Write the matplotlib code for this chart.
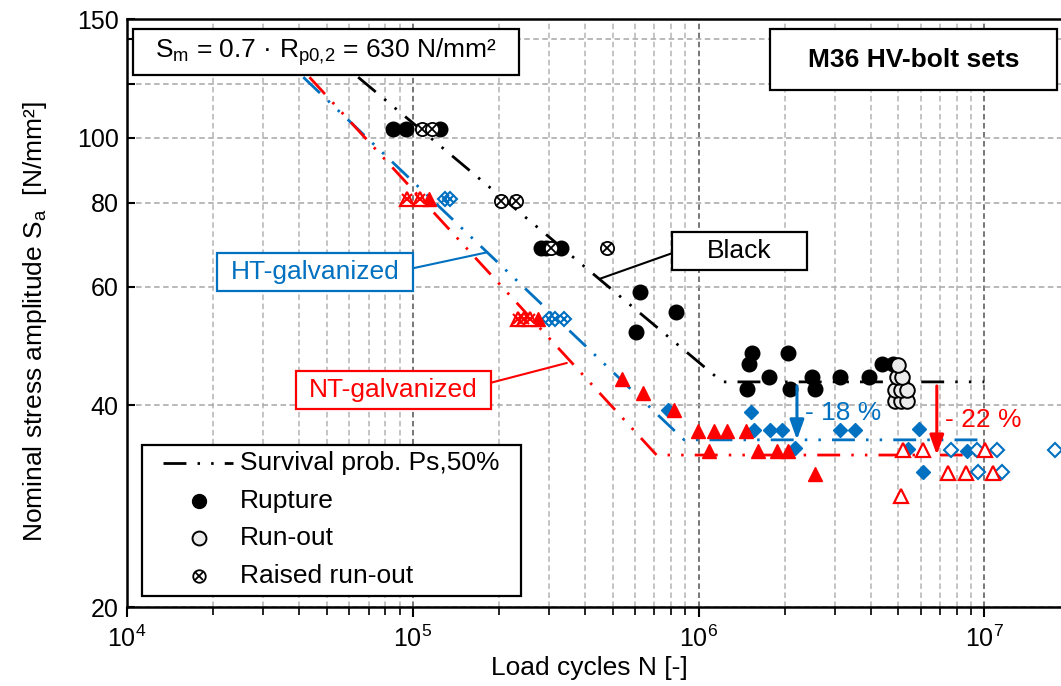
import numpy as np
import matplotlib
matplotlib.use('Agg')
import matplotlib.pyplot as plt
from matplotlib.patches import Rectangle
from matplotlib.ticker import FixedLocator, FixedFormatter, LogLocator, NullFormatter

plt.rcParams['font.family'] = ['Liberation Sans', 'DejaVu Sans']
plt.rcParams['mathtext.fontset'] = 'custom'
plt.rcParams['mathtext.rm'] = 'Liberation Sans'
plt.rcParams['mathtext.it'] = 'Liberation Sans:italic'
plt.rcParams['mathtext.bf'] = 'Liberation Sans:bold'
plt.rcParams['mathtext.default'] = 'regular'
plt.rcParams['lines.scale_dashes'] = False

# ---- data ----
# black bolts
black_rup_N = [8.54e4, 9.5e4, 1.25e5, 2.82e5, 2.93e5, 3.31e5, 6.24e5, 6.04e5, 8.36e5,
               1.54e6, 1.50e6, 1.48e6, 1.76e6, 2.06e6, 2.09e6, 2.49e6, 2.56e6, 3.13e6,
               3.95e6, 4.38e6, 4.81e6]
black_rup_S = [103, 103, 103, 68.6, 68.6, 68.6, 58.9, 51.4, 55.1,
               47.8, 46.0, 42.3, 44.1, 47.8, 42.2, 44.1, 42.3, 44.1,
               44.1, 46.0, 46.0]
black_run_N = [4.87e6, 5.1e6, 5.35e6, 4.87e6, 5.1e6, 5.35e6, 4.96e6, 5.14e6, 5.0e6]
black_run_S = [40.5, 40.5, 40.5, 42.1, 42.1, 42.1, 44.1, 44.1, 45.9]
black_raised_N = [1.079e5, 1.169e5, 2.03e5, 2.29e5, 3.05e5, 4.77e5]
black_raised_S = [103, 103, 80.5, 80.5, 68.6, 68.6]

# HT-galvanized (blue)
ht_rup_N = [7.82e5, 1.52e6, 1.56e6, 1.78e6, 1.96e6, 3.13e6, 3.53e6, 5.93e6,
            2.18e6, 5.42e6, 8.72e6, 6.09e6]
ht_rup_S = [39.3, 39.1, 36.7, 36.7, 36.7, 36.7, 36.7, 36.8,
            34.5, 34.4, 34.2, 31.8]
ht_run_N = [7.65e6, 9.41e6, 1.105e7, 1.77e7, 9.53e6, 1.15e7]
ht_run_S = [34.3, 34.3, 34.3, 34.3, 31.8, 31.8]
ht_raised_N = [1.30e5, 1.355e5, 2.99e5, 3.15e5, 3.37e5]
ht_raised_S = [81, 81, 53.8, 53.8, 53.8]

# NT-galvanized (red)
nt_rup_N = [1.137e5, 2.75e5, 5.40e5, 6.38e5, 8.2e5, 9.95e5, 1.135e6, 1.255e6, 1.46e6,
            1.09e6, 1.62e6, 1.88e6, 2.06e6, 2.56e6]
nt_rup_S = [81, 53.8, 43.8, 41.7, 39.3, 36.6, 36.6, 36.6, 36.6,
            34.2, 34.2, 34.2, 34.2, 31.6]
nt_run_N = [5.18e6, 6.09e6, 1.006e7, 7.48e6, 8.63e6, 1.07e7, 5.11e6]
nt_run_S = [34.3, 34.3, 34.3, 31.7, 31.7, 31.7, 29.3]
nt_raised_N = [9.56e4, 1.058e5, 2.34e5, 2.46e5, 2.58e5]
nt_raised_S = [81, 81, 53.8, 53.8, 53.8]

# Ps 50% curves (start, knee, end)
black_fit_N = [6.44e4, 1.21e6, 1.0e7]
black_fit_S = [123, 43.3, 43.3]
ht_fit_N = [4.14e4, 8.9e5, 1.0e7]
ht_fit_S = [123, 35.5, 35.5]
nt_fit_N = [4.35e4, 7.13e5, 1.0e7]
nt_fit_S = [123, 33.7, 33.7]

arrow_N = [2.21e6, 6.82e6]
arrow_top_S = 42.7
arrow_labels = ['- 18 %', '- 22 %']

ytick_vals = [20, 40, 60, 80, 100, 120, 140, 150]
ytick_labels = ['20', '40', '60', '80', '100', '', '', '150']

BLUE = '#0070c0'
RED = '#ff0000'
DASH = (16.5, 8, 1.8, 8, 1.8, 8)
FS = 19

fig = plt.figure(figsize=(10.61, 6.86), dpi=100)
ax = fig.add_axes([127 / 1061, (686 - 607.3) / 686, 934 / 1061, 588 / 686])


def axf(x, y):
    # pixel position in the reference -> axes fraction
    return (x - 127) / 934, (607.3 - y) / 588


ax.set_xscale('log')
ax.set_yscale('log')
ax.set_xlim(1e4, 1.855e7)
ax.set_ylim(20, 150)

# grid
ax.yaxis.set_major_locator(FixedLocator(ytick_vals))
ax.yaxis.set_major_formatter(FixedFormatter(ytick_labels))
ax.yaxis.set_minor_locator(FixedLocator([]))
ax.xaxis.set_major_locator(LogLocator(base=10, numticks=10))
ax.xaxis.set_minor_locator(LogLocator(base=10, subs=np.arange(2, 10), numticks=20))
ax.xaxis.set_minor_formatter(NullFormatter())
ax.grid(True, axis='y', which='major', color='#a6a6a6', ls=(0, (4, 2.5)), lw=1.1)
ax.grid(True, axis='x', which='minor', color='#b4b4b4', ls=(0, (4, 2.5)), lw=1.1)
ax.grid(True, axis='x', which='major', color='#606060', ls=(0, (4, 2.5)), lw=1.2)
ax.set_axisbelow(True)

ax.tick_params(axis='x', which='major', direction='out', length=7, width=1.5, labelsize=18, pad=6)
ax.tick_params(axis='x', which='minor', direction='out', length=6, width=1.2)
ax.tick_params(axis='y', which='major', direction='in', length=6, width=1.5, labelsize=18, pad=6)
for s in ['left', 'top', 'bottom']:
    ax.spines[s].set_linewidth(1.8)
ax.spines['right'].set_visible(False)

# fitted curves
ax.plot(ht_fit_N, ht_fit_S, color=BLUE, lw=2.0, dashes=DASH, zorder=2)
ax.plot(nt_fit_N, nt_fit_S, color=RED, lw=2.0, dashes=DASH, zorder=2)
ax.plot(black_fit_N, black_fit_S, color='black', lw=2.0, dashes=DASH, zorder=2)

# blue markers
ax.plot(ht_rup_N, ht_rup_S, 'D', ms=7.5, mfc=BLUE, mec=BLUE, zorder=4)
ax.plot(ht_run_N, ht_run_S, 'D', ms=7.2, mfc='white', mec=BLUE, mew=1.5, zorder=4)
ax.plot(ht_raised_N, ht_raised_S, 'D', ms=7.5, mfc='white', mec=BLUE, mew=1.5, zorder=4)
ax.plot(ht_raised_N, ht_raised_S, 'x', ms=5.3, mec=BLUE, mew=1.5, zorder=4)

# red markers
ax.plot(nt_rup_N, nt_rup_S, '^', ms=10.5, mfc=RED, mec=RED, zorder=4)
ax.plot(nt_run_N, nt_run_S, '^', ms=10.5, mfc='white', mec=RED, mew=1.6, zorder=4)
ax.plot(nt_raised_N, nt_raised_S, '^', ms=10.5, mfc='white', mec=RED, mew=1.6, zorder=4)
ax.plot(nt_raised_N, nt_raised_S, 'x', ms=6.5, mec=RED, mew=1.5, zorder=4)

# black markers
ax.plot(black_rup_N, black_rup_S, 'o', ms=10.5, mfc='black', mec='black', zorder=5)
ax.plot(black_run_N, black_run_S, 'o', ms=10.5, mfc='#ececec', mec='black', mew=1.4, zorder=5)
ax.plot(black_raised_N, black_raised_S, 'o', ms=9.5, mfc='white', mec='black', mew=1.3, zorder=5)
ax.plot(black_raised_N, black_raised_S, 'x', ms=6.5, mec='black', mew=1.3, zorder=5)

# reduction arrows
for n, s_low, col, lab in zip(arrow_N, [ht_fit_S[-1], nt_fit_S[-1]], [BLUE, RED], arrow_labels):
    ax.annotate('', xy=(n, s_low), xytext=(n, arrow_top_S),
                arrowprops=dict(arrowstyle='-|>,head_length=0.7,head_width=0.25',
                                mutation_scale=17, color=col, lw=2.2,
                                shrinkA=0, shrinkB=0), zorder=6)
    ax.annotate(lab, xy=(n, (arrow_top_S * s_low) ** 0.5), xytext=(6, 0),
                textcoords='offset points', color=col, fontsize=FS,
                ha='left', va='center', zorder=6)


def box(x0, y0, x1, y1, ec, text, tcol, bold=False):
    a0 = axf(x0, y1)
    a1 = axf(x1, y0)
    ax.add_patch(Rectangle(a0, a1[0] - a0[0], a1[1] - a0[1], transform=ax.transAxes,
                           facecolor='white', edgecolor=ec, lw=1.6, zorder=8, clip_on=False))
    c = axf((x0 + x1) / 2, (y0 + y1) / 2)
    ax.text(c[0], c[1], text, transform=ax.transAxes, ha='center', va='center',
            fontsize=FS, color=tcol, fontweight='bold' if bold else 'normal', zorder=9)


# leader lines
leaders = [((671.8, 253.3), (4.49e5, 61.6), 'black'),
           ((412.7, 268.3), (1.82e5, 67.5), BLUE),
           ((491.0, 382.7), (3.46e5, 46.2), RED)]
for start, end, col in leaders:
    ax.annotate('', xy=end, xytext=axf(*start), textcoords='axes fraction',
                arrowprops=dict(arrowstyle='-', color=col, lw=1.5, shrinkA=0, shrinkB=0),
                zorder=7)

box(132.7, 29.3, 519, 75, 'black',
    r'S$_{\mathregular{m}}$ = 0.7 · R$_{\mathregular{p0{,}2}}$ = 630 N/mm²', 'black')
box(770.2, 29.3, 1057.3, 90, 'black', 'M36 HV-bolt sets', 'black', bold=True)
box(671.8, 232.3, 807.1, 270, 'black', 'Black', 'black')
box(217.3, 252.7, 412.7, 290.7, BLUE, 'HT-galvanized', BLUE)
box(295.7, 371, 491, 409, RED, 'NT-galvanized', RED)

# legend (drawn by hand to match the frame)
lg0 = axf(141.7, 595.7)
lg1 = axf(521, 445)
ax.add_patch(Rectangle(lg0, lg1[0] - lg0[0], lg1[1] - lg0[1], transform=ax.transAxes,
                       facecolor='white', edgecolor='black', lw=1.6, zorder=8))
rows = [463.3, 501, 538.3, 575.7]
labels = ['Survival prob. Ps,50%', 'Rupture', 'Run-out', 'Raised run-out']
for yy, lab in zip(rows, labels):
    tx, ty = axf(240, yy)
    ax.text(tx, ty, lab, transform=ax.transAxes, fontsize=FS, ha='left', va='center', zorder=9)
l0 = axf(163.3, rows[0])
l1 = axf(233.3, rows[0])
ax.plot([l0[0], l1[0]], [l0[1], l1[1]], color='black', lw=2.0, dashes=DASH,
        transform=ax.transAxes, zorder=9)
mx = axf(199, rows[1])[0]
ax.plot([mx], [axf(199, rows[1])[1]], 'o', ms=10, mfc='black', mec='black',
        transform=ax.transAxes, zorder=9)
ax.plot([mx], [axf(199, rows[2])[1]], 'o', ms=10, mfc='#ececec', mec='black', mew=1.4,
        transform=ax.transAxes, zorder=9)
ax.plot([mx], [axf(199, rows[3])[1]], 'o', ms=9, mfc='white', mec='black', mew=1.3,
        transform=ax.transAxes, zorder=9)
ax.plot([mx], [axf(199, rows[3])[1]], 'x', ms=6, mec='black', mew=1.3,
        transform=ax.transAxes, zorder=9)

ax.set_xlabel('Load cycles N [-]', fontsize=FS, va='center')
ax.xaxis.set_label_coords(*axf(589.5, 668))
ax.set_ylabel(r'Nominal stress amplitude S$_{\mathregular{a}}$  [N/mm²]', fontsize=FS, va='center')
ax.yaxis.set_label_coords(*axf(35, 322))

fig.savefig('out.png', dpi=100)
